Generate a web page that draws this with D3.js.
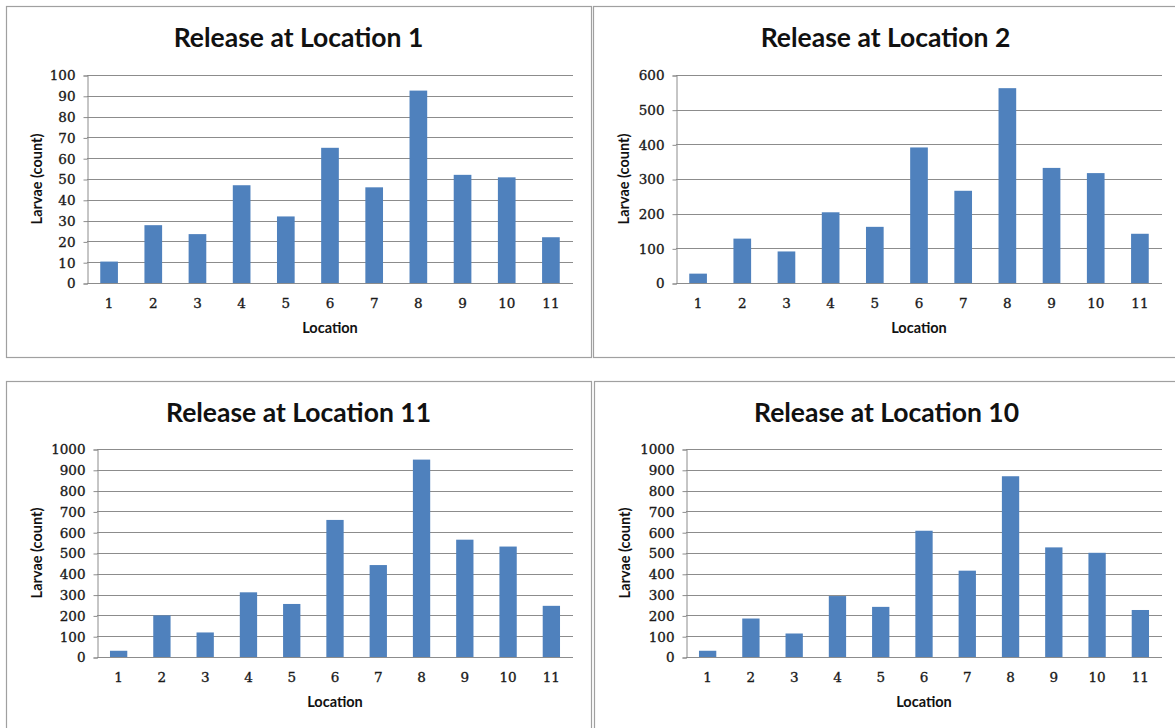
<!DOCTYPE html>
<html>
<head>
<meta charset="utf-8">
<script src="https://cdn.jsdelivr.net/npm/d3@7/dist/d3.min.js"></script>
<style>
  html, body { margin: 0; padding: 0; background: #ffffff; }
  svg { display: block; }
</style>
</head>
<body>
<svg id="chart" width="1175" height="728"></svg>
<script>
// ---- data ----
const categories = ["1", "2", "3", "4", "5", "6", "7", "8", "9", "10", "11"];
const release1  = [10.3, 27.8, 23.5, 47, 32, 65, 46, 92.5, 52, 50.8, 22];
const release2  = [27, 128, 91, 204, 162, 391, 266, 562, 332, 317, 142];
const release11 = [30, 200, 118, 311, 255, 659, 442, 949, 564, 531, 246];
const release10 = [30, 185, 113, 293, 241, 607, 415, 869, 527, 501, 226];
const titles = ["Release at Location 1", "Release at Location 2", "Release at Location 11", "Release at Location 10"];
const ticks100  = [0, 10, 20, 30, 40, 50, 60, 70, 80, 90, 100];
const ticks600  = [0, 100, 200, 300, 400, 500, 600];
const ticks1000 = [0, 100, 200, 300, 400, 500, 600, 700, 800, 900, 1000];
const xAxisTitle = "Location";
const yAxisTitle = "Larvae (count)";

// ---- layout ----
const panels = [
  { frame: { x: 6,   y: 6,   w: 585, h: 351 }, plot: { l: 87,  t: 75,  r: 573,  b: 283 }, values: release1,  ticks: ticks100,  title: titles[0] },
  { frame: { x: 593, y: 6,   w: 585, h: 351 }, plot: { l: 676, t: 75,  r: 1162, b: 283 }, values: release2,  ticks: ticks600,  title: titles[1] },
  { frame: { x: 6,   y: 381, w: 585, h: 360 }, plot: { l: 97,  t: 449, r: 573,  b: 657 }, values: release11, ticks: ticks1000, title: titles[2] },
  { frame: { x: 594, y: 381, w: 585, h: 360 }, plot: { l: 686, t: 449, r: 1162, b: 657 }, values: release10, ticks: ticks1000, title: titles[3] }
];

const BAR = "#4f81bd";
const GRID = "#8c8c8c";
const FRAME = "#a0a0a0";
const TITLE_FONT = "Lato, 'Open Sans', sans-serif";
const TICK_FONT = "'DejaVu Serif', 'Liberation Serif', serif";

const svg = d3.select("#chart");

function styleTickText(sel) {
  sel.attr("fill", "#1a1a1a")
    .attr("stroke", "#1a1a1a")
    .attr("stroke-width", 0.35)
    .style("font-family", TICK_FONT)
    .style("font-size", "13.5px")
    .style("font-weight", "normal");
}

panels.forEach(p => {
  const g = svg.append("g");
  const f = p.frame;

  // frame
  g.append("rect")
    .attr("x", f.x + 0.5).attr("y", f.y + 0.5)
    .attr("width", f.w).attr("height", f.h)
    .attr("fill", "#ffffff")
    .attr("stroke", FRAME).attr("stroke-width", 1.2);

  // scales
  const x = d3.scaleBand()
    .domain(categories)
    .range([p.plot.l, p.plot.r])
    .paddingInner(0.6)
    .paddingOuter(0.3);
  const y = d3.scaleLinear()
    .domain([p.ticks[0], p.ticks[p.ticks.length - 1]])
    .range([p.plot.b, p.plot.t]);

  // gridlines
  g.append("g")
    .selectAll("line")
    .data(p.ticks)
    .join("line")
    .attr("x1", p.plot.l).attr("x2", p.plot.r)
    .attr("y1", d => Math.round(y(d)) + 0.5)
    .attr("y2", d => Math.round(y(d)) + 0.5)
    .attr("stroke", GRID).attr("stroke-width", 1);

  // y axis
  const yAxis = g.append("g")
    .attr("transform", `translate(${p.plot.l + 0.5},0.5)`)
    .call(d3.axisLeft(y).tickValues(p.ticks).tickSize(4).tickPadding(8).tickFormat(d3.format("d")));
  yAxis.select(".domain").attr("stroke", GRID);
  yAxis.selectAll(".tick line").attr("stroke", GRID);
  yAxis.selectAll("text").call(styleTickText);

  // x axis
  const xAxis = g.append("g")
    .attr("transform", `translate(0,${Math.round(y(0)) + 0.5})`)
    .call(d3.axisBottom(x).tickSize(0).tickPadding(15));
  xAxis.select(".domain").remove();
  xAxis.selectAll("text").call(styleTickText);

  // bars
  g.append("g")
    .selectAll("rect")
    .data(p.values)
    .join("rect")
    .attr("x", (d, i) => x(categories[i]))
    .attr("width", x.bandwidth())
    .attr("y", d => y(d))
    .attr("height", d => y(0) - y(d))
    .attr("fill", BAR);

  // x baseline redrawn above bars
  g.append("line")
    .attr("x1", p.plot.l).attr("x2", p.plot.r)
    .attr("y1", Math.round(y(0)) + 0.5).attr("y2", Math.round(y(0)) + 0.5)
    .attr("stroke", GRID);

  // title
  g.append("text")
    .attr("x", f.x + f.w / 2)
    .attr("y", f.y + 41)
    .attr("text-anchor", "middle")
    .style("font-family", TITLE_FONT)
    .style("font-weight", "bold")
    .style("font-size", "26.5px")
    .attr("fill", "#111")
    .text(p.title);

  // x axis title
  g.append("text")
    .attr("x", (p.plot.l + p.plot.r) / 2)
    .attr("y", p.plot.b + 50)
    .attr("text-anchor", "middle")
    .style("font-family", TITLE_FONT)
    .style("font-weight", "bold")
    .style("font-size", "14.5px")
    .attr("fill", "#111")
    .text(xAxisTitle);

  // y axis title
  const cy = (p.plot.t + p.plot.b) / 2;
  const cx = f.x + 31;
  g.append("text")
    .attr("transform", `translate(${cx},${cy}) rotate(-90)`)
    .attr("dy", "0.35em")
    .attr("text-anchor", "middle")
    .style("font-family", TITLE_FONT)
    .style("font-weight", "bold")
    .style("font-size", "14.5px")
    .attr("fill", "#111")
    .text(yAxisTitle);
});
</script>
</body>
</html>
